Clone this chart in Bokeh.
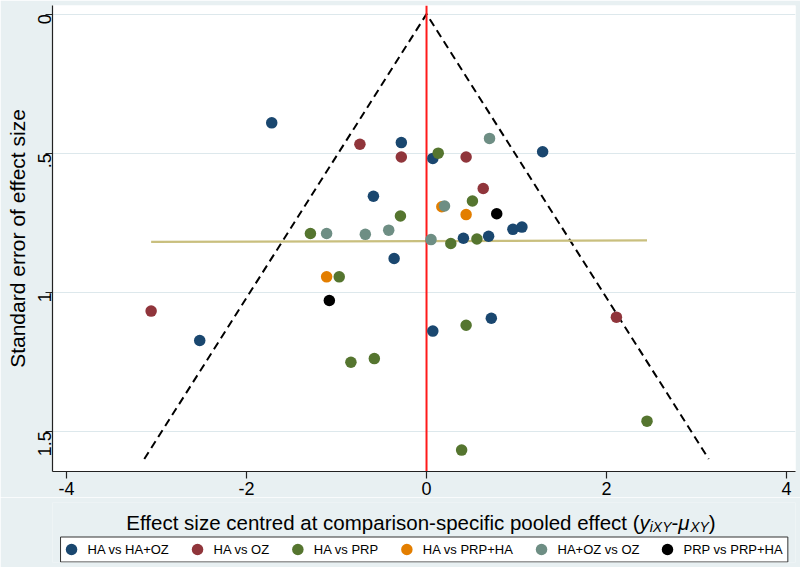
import math
from bokeh.plotting import figure
from bokeh.layouts import column
from bokeh.models import Range1d, FixedTicker
from bokeh.core.properties import value
from bokeh.embed import file_html
from bokeh.resources import INLINE

# ---------------- data ----------------
groups = ["HA vs HA+OZ", "HA vs OZ", "HA vs PRP", "HA vs PRP+HA", "HA+OZ vs OZ", "PRP vs PRP+HA"]
colors = ["#1a476f", "#90353b", "#55752f", "#e37e00", "#6e8e84", "#000000"]

ha_haoz_x = [-1.72, -0.28, 0.07, 1.29, -0.59, 0.96, 1.06, 0.41, 0.69, -0.36, -2.52, 0.07, 0.72]
ha_haoz_se = [0.391, 0.462, 0.519, 0.495, 0.655, 0.774, 0.766, 0.806, 0.799, 0.879, 1.174, 1.140, 1.094]

ha_oz_x = [-0.74, -0.28, 0.44, 0.63, -3.06, 2.11]
ha_oz_se = [0.468, 0.514, 0.514, 0.627, 1.068, 1.090]

ha_prp_x = [0.13, 0.51, -0.29, -1.29, 0.27, 0.56, -0.97, -0.84, -0.58, 0.44, 0.39, 2.45]
ha_prp_se = [0.500, 0.672, 0.726, 0.789, 0.825, 0.809, 0.945, 1.252, 1.239, 1.119, 1.568, 1.464]

ha_prpha_x = [0.17, 0.44, -1.11]
ha_prpha_se = [0.693, 0.721, 0.945]

haoz_oz_x = [-1.11, -0.68, -0.42, 0.20, 0.70, 0.05]
haoz_oz_se = [0.789, 0.792, 0.777, 0.690, 0.447, 0.811]

prp_prpha_x = [0.78, -1.08]
prp_prpha_se = [0.718, 1.030]

series_x = [ha_haoz_x, ha_oz_x, ha_prp_x, ha_prpha_x, haoz_oz_x, prp_prpha_x]
series_se = [ha_haoz_se, ha_oz_se, ha_prp_se, ha_prpha_se, haoz_oz_se, prp_prpha_se]

fit_se = [0.819, 0.814]          # fitted line at min / max effect
funnel_se_max = 1.6
z_crit = 1.96

x_ticks = [-4, -2, 0, 2, 4]
x_tick_labels = {-4: "-4", -2: "-2", 0: "0", 2: "2", 4: "4"}
y_ticks = [0, 0.5, 1, 1.5]
y_tick_labels = {0: "0", 0.5: ".5", 1: "1", 1.5: "1.5"}

x_title_main = "Effect size centred at comparison-specific pooled effect ("
y_title = "Standard error of effect size"

# ---------------- styling ----------------
BG = "#e8f0f2"
FONT = "Liberation Sans"
W = 800
H_MAIN, H_BOT = 497, 70
XMIN, XMAX = -4.156, 4.10
YTOP, YBOT = -0.031, 1.645
PXU = 90.0   # pixels per effect unit (layout helper for the bottom strip)

p = figure(width=W, height=H_MAIN, output_backend="svg", toolbar_location=None,
           x_range=Range1d(XMIN, XMAX), y_range=Range1d(YBOT, YTOP),
           min_border_left=52,
           background_fill_color="white", border_fill_color=BG, outline_line_color=None)

for ax in (p.xaxis, p.yaxis):
    ax.axis_line_color = "#222222"
    ax.axis_line_width = 1.2
    ax.major_tick_line_color = "#222222"
    ax.major_tick_line_width = 1.2
    ax.major_tick_out = 7
    ax.major_tick_in = 0
    ax.minor_tick_line_color = None
    ax.major_label_text_font = FONT
    ax.major_label_text_font_size = "18px"
    ax.major_label_text_color = "black"
    ax.axis_label_text_font = FONT
    ax.axis_label_text_font_size = "21px"
    ax.axis_label_text_font_style = "normal"
    ax.axis_label_text_color = "black"

p.xaxis.ticker = FixedTicker(ticks=x_ticks)
p.xaxis.major_label_overrides = x_tick_labels
p.xaxis.major_label_standoff = 3
p.yaxis.ticker = FixedTicker(ticks=y_ticks)
p.yaxis.major_label_overrides = y_tick_labels
p.yaxis.major_label_orientation = math.pi / 2
p.yaxis.major_label_standoff = 1
p.yaxis.axis_label = y_title
p.yaxis.axis_label_standoff = 0

p.xgrid.visible = False
p.ygrid.ticker = FixedTicker(ticks=y_ticks)
p.ygrid.grid_line_color = "#dde8ec"
p.ygrid.grid_line_width = 1.2

# funnel (pseudo 95% limits)
p.line([-z_crit * funnel_se_max, 0, z_crit * funnel_se_max], [funnel_se_max, 0, funnel_se_max],
       line_color="black", line_width=2, line_dash="8 5")

# fitted line across the observed effects
all_x = [v for s in series_x for v in s]
p.line([min(all_x), max(all_x)], fit_se, line_color="#c9bf7e", line_width=2.2)

# zero line
p.line([0, 0], [YBOT, YTOP], line_color="#ff1a1a", line_width=2)

for c, xs, ses in zip(colors, series_x, series_se):
    p.scatter(xs, ses, size=11.5, fill_color=c, line_color=None)

# ---------------- bottom strip: x title + legend ----------------
# x shares the effect scale of the main plot (frames are aligned), y in pixels
p2 = figure(width=W, height=H_BOT, output_backend="svg", toolbar_location=None,
            x_range=Range1d(XMIN, XMAX), y_range=Range1d(H_BOT - 5, 5),
            x_axis_location=None, y_axis_location=None, min_border_left=52,
            background_fill_color=BG, border_fill_color=BG, outline_line_color=None)
p2.grid.visible = False

ADV = {' ': 278, '+': 584, 'A': 667, 'H': 722, 'O': 778, 'P': 667, 'R': 722, 'Z': 611,
       's': 500, 'v': 500, 'X': 667, 'Y': 667, 'i': 222, 'y': 500, '-': 333, ')': 333,
       '\u03bc': 576}
def tw(s, fs):
    return sum(ADV.get(ch, 556) for ch in s) * fs / 1000.0 / PXU   # width in effect units

# x-axis title: main text right-aligned at the join, math part after it
FS = 20.5
SUB = 14.0
join = 213.0 / PXU
base = 25.0
p2.text(x=[join], y=[base], text=[x_title_main], text_font=value(FONT),
        text_font_size=value(f"{FS}px"), text_align=value("right"),
        text_baseline=value("alphabetic"), text_color="black")
pieces = [("y", FS, "italic", 0), ("iXY", SUB, "italic", 4), ("-", FS, "normal", 0),
          ("\u03bc", FS, "italic", 0), ("XY", SUB, "italic", 4), (")", FS, "normal", 0)]
cur = join
for txt, fs, style, dyb in pieces:
    p2.text(x=[cur], y=[base + dyb], text=[txt], text_font=value(FONT),
            text_font_size=value(f"{fs}px"), text_font_style=value(style),
            text_align=value("left"), text_baseline=value("alphabetic"), text_color="black")
    cur += tw(txt, fs)

# legend
LFS = 13.0
ly = 52.0
mx = [-355.0 / PXU]
for g in groups[:-1]:
    mx.append(mx[-1] + (16 + 28) / PXU + tw(g, LFS))
tx = [m + 16 / PXU for m in mx]
box_l = mx[0] - 11 / PXU
box_r = tx[-1] + tw(groups[-1], LFS) + 5 / PXU
p2.quad(left=[box_l], right=[box_r], top=[ly - 12.5], bottom=[ly + 12.5],
        fill_color="white", line_color="#333333", line_width=1)
p2.scatter(mx, [ly] * len(mx), size=11.5, fill_color=colors, line_color=None)
p2.text(x=tx, y=[ly] * len(tx), text=groups, text_font=value(FONT),
        text_font_size=value(f"{LFS}px"), text_align=value("left"),
        text_baseline=value("middle"), text_color="black")

layout = column(p, p2, spacing=0)
open("out.html", "w").write(file_html(layout, INLINE))
